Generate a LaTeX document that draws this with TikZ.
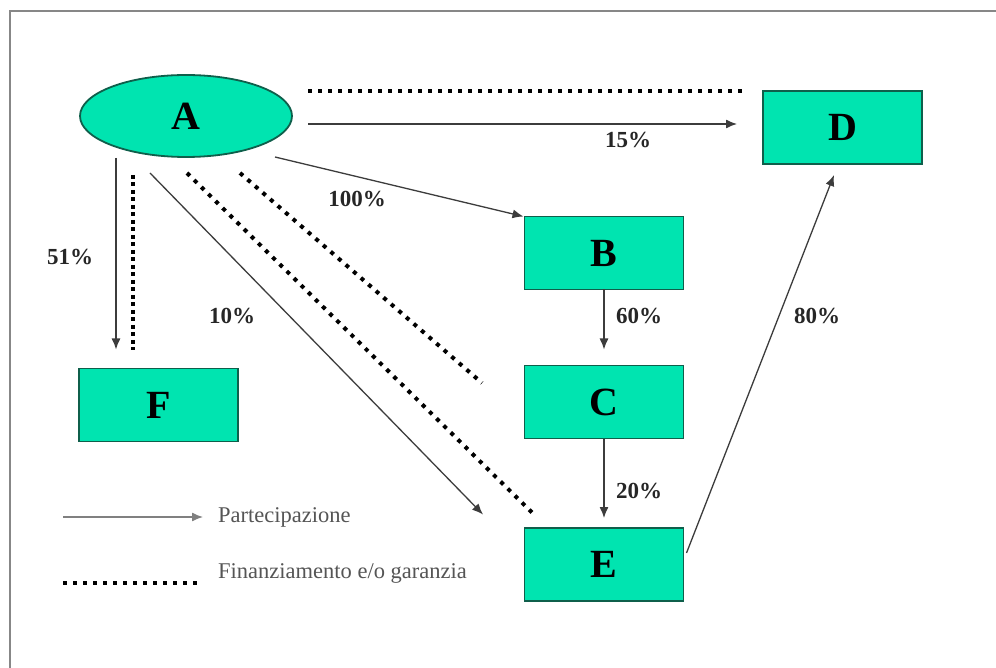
\documentclass[tikz,border=0pt]{standalone}
\usepackage{fontspec}
\setmainfont{Liberation Serif}
\usetikzlibrary{shapes.geometric,arrows.meta,calc}
\definecolor{boxfill}{RGB}{0,228,176}
\definecolor{boxline}{RGB}{15,95,75}
\definecolor{framegray}{RGB}{135,135,135}
\definecolor{linegray}{RGB}{60,60,60}
\definecolor{legendgray}{RGB}{85,85,85}
\begin{document}
\begin{tikzpicture}[x=1pt,y=-1pt,
  entity/.style={draw=boxline,line width=1.8pt,fill=boxfill,inner sep=0pt,outer sep=0pt,
    font=\fontsize{40}{42}\selectfont\bfseries},
  boxnode/.style={entity,rectangle,minimum width=159pt,minimum height=73pt},
  ovalnode/.style={entity,ellipse,minimum width=212pt,minimum height=82pt},
  arr/.style={draw=linegray,line width=1.3pt,-{Latex[length=11pt,width=9pt]}},
  dots/.style={draw=black,line width=4pt,dash pattern=on 4pt off 6pt},
  densedots/.style={draw=black,line width=4pt,dash pattern=on 4pt off 3.5pt},
  pct/.style={font=\fontsize{23}{25}\selectfont\bfseries,inner sep=0pt,text=black!85},
  legend/.style={font=\fontsize{22.5}{24}\selectfont,text=legendgray,inner sep=0pt,anchor=west}]
\useasboundingbox (0,0) rectangle (996,668);
\fill[white] (0,0) rectangle (996,668);
% frame
\draw[framegray,line width=2pt] (996,11) -- (10,11) -- (10,668);
% nodes
\node[ovalnode] (A) at (186,116) {A};
\node[boxnode] (D) at (842.5,127.5) {D};
\node[boxnode] (B) at (604,253) {B};
\node[boxnode] (C) at (604,402) {C};
\node[boxnode] (E) at (604,564.5) {E};
\node[boxnode] (F) at (158.5,405) {F};
% dotted (financing) lines
\draw[dots] ($(A.east)+(16,-25)$) -- ($(D.north west)+(-16,0)$);
\draw[densedots] ($(A.south)+(-53,18)$) -- ($(F.north)+(-25.5,-19)$);
\draw[dots] ($(A.south)+(1,16)$) -- ($(E.north west)+(8.5,-14.5)$);
\draw[dots] ($(A.south)+(54,16)$) -- ($(C.west)+(-42.5,-19)$);
% participation arrows
\draw[arr] ($(A.east)+(16,8)$) -- ($(D.west)+(-26,-3.5)$);
\draw[arr] ($(A.center)+(89,41)$) -- ($(B.north west)+(-1,0)$);
\draw[arr] ($(A.south)+(-70,1)$) -- ($(F.north)+(-42.5,-19)$);
\draw[arr] ($(A.south)+(-36,16)$) -- ($(E.north west)+(-41.5,-13.5)$);
\draw[arr] (B.south) -- ($(C.north)+(0,-16)$);
\draw[arr] (C.south) -- ($(E.north)+(0,-10)$);
\draw[arr] ($(E.east)+(3,-11.5)$) -- ($(D.south)+(-8.5,11)$);
% labels
\node[pct] (l15) at (628,140) {15\%};
\node[pct] (l100) at (357,199) {100\%};
\node[pct,anchor=west] (l51) at (47,257) {51\%};
\node[pct] (l10) at (232,316) {10\%};
\node[pct] (l60) at (639,316) {60\%};
\node[pct] (l20) at (639,491) {20\%};
\node[pct] (l80) at (817,316) {80\%};
% legend
\coordinate (ls1) at (63,517);
\coordinate (le1) at (203,517);
\coordinate (ls2) at (63,583);
\coordinate (le2) at (198,583);
\draw[arr,draw=gray] (ls1) -- (le1);
\draw[dots] (ls2) -- (le2);
\node[legend] (t1) at (218,517) {Partecipazione};
\node[legend] (t2) at (218,573) {Finanziamento e/o garanzia};
\end{tikzpicture}
\end{document}
